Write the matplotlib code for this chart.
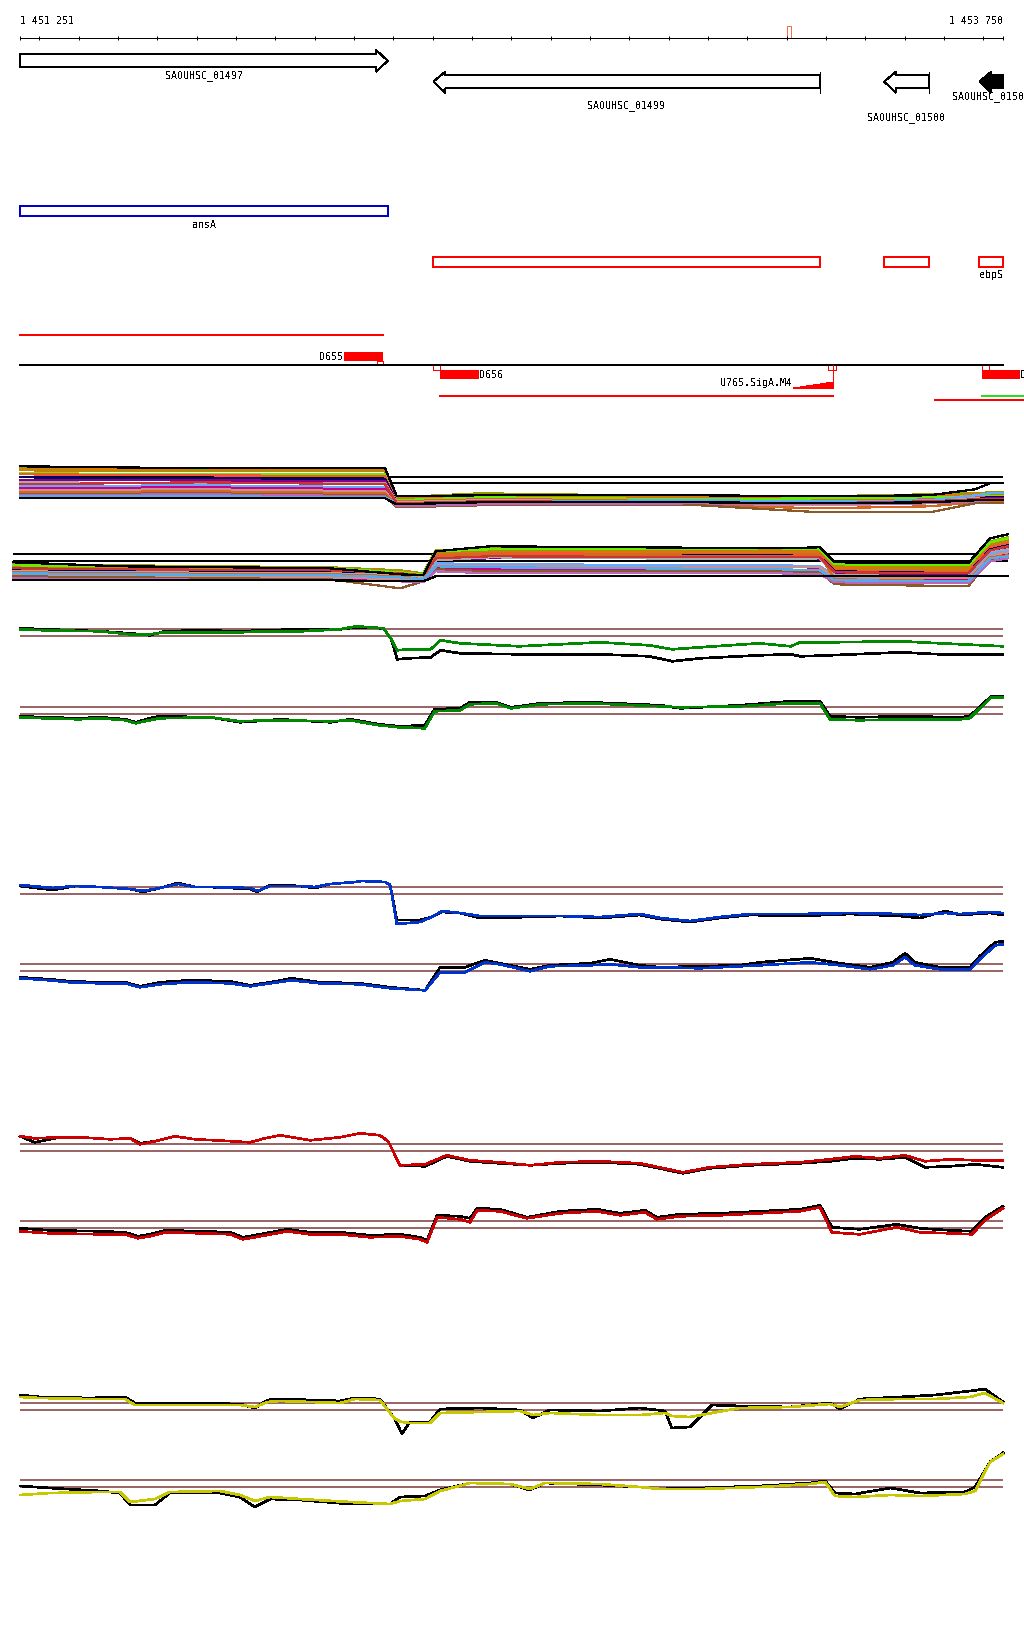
import numpy as np
import matplotlib
matplotlib.use('Agg')
import matplotlib.pyplot as plt
from matplotlib.patches import Polygon, Rectangle

plt.rcParams['font.family'] = ['DejaVu Sans Mono', 'DejaVu Sans']
plt.rcParams['font.size'] = 7.2
plt.rcParams['text.antialiased'] = False
plt.rcParams['lines.antialiased'] = False
plt.rcParams['patch.antialiased'] = False

# ---- region shown ----
START, END = 1451251, 1453750
TICKS = [START] + list(range(1451300, 1453701, 100)) + [END]
CURSOR = 1453202

# ---- genes ----
GENE_NAMES = ['SAOUHSC_01497', 'SAOUHSC_01499', 'SAOUHSC_01500', 'SAOUHSC_01501']
GENE_START = [1451251, 1452302, 1453448, 1453690]
GENE_END = [1452186, 1453285, 1453563, 1453750]
GENE_STRAND = ['+', '-', '-', '-']

# ---- gene name boxes ----
BOX_NAMES = ['ansA', '', '', 'ebpS']
BOX_START = [1451251, 1452302, 1453448, 1453690]
BOX_END = [1452186, 1453285, 1453563, 1453750]
BOX_COLORS = ['#0000cc', '#ff0000', '#ff0000', '#ff0000']

# ---- terminators / promoter / transcripts ----
TERM_NAMES = ['D655', 'D656', 'D657']
TERM_START = [1452075, 1452320, 1453697]
TERM_END = [1452175, 1452418, 1453793]
TERM_MARK = [1452159, 1452302, 1453697]
TERM_STRAND = ['+', '-', '-']
PROM_NAME = 'U765.SigA.M4'
PROM_POS = 1453317
PROM_LEN = 100
TX_START = [1451251, 1452320, 1453576, 1453697]
TX_END = [1452175, 1453317, 1453820, 1453820]
TX_COLORS = ['#ff0000', '#ff0000', '#ff0000', '#22dd22']

# ---- multi-condition track (values, log scale units) ----
MC_COLORS = ['#999900', '#dd7700', '#b8860b', '#66ee00', '#ff5030', '#000066',
             '#880088', '#aaaaaa', '#66aaff', '#cc0088', '#c89090', '#d2691e',
             '#8b5a2b', '#bb66bb', '#55aaee', '#cc3333', '#000000', '#000000']
MT_POS = [1451251, 1451709, 1452179, 1452209, 1452420, 1452980, 1453285,
          1453564, 1453679, 1453717, 1453750]
MT_VALUES = [
    [1.6, 1.4, 1.4, -1.4, -1.0, -1.3, -1.3, -1.1, -1.0, -0.9, -0.9],
    [1.4, 1.5, 1.3, -1.5, -1.3, -1.4, -1.4, -1.3, -1.1, -1.1, -1.1],
    [1.3, 1.2, 1.2, -1.6, -1.5, -1.5, -1.6, -1.5, -1.2, -1.2, -1.2],
    [1.0, 0.9, 0.9, -1.7, -1.4, -1.6, -1.5, -1.4, -1.3, -1.3, -1.3],
    [0.9, 0.8, 0.7, -1.8, -1.6, -1.7, -1.9, -1.6, -1.4, -1.4, -1.4],
    [0.6, 0.5, 0.4, -1.9, -1.8, -1.8, -1.9, -1.7, -1.5, -1.4, -1.4],
    [0.3, 0.3, 0.2, -2.0, -1.9, -1.9, -2.0, -1.8, -1.6, -1.5, -1.5],
    [0.1, 0.0, 0.0, -1.9, -1.7, -1.8, -1.9, -1.7, -1.5, -1.6, -1.6],
    [-0.3, -0.2, -0.4, -2.0, -1.8, -1.7, -1.8, -1.7, -1.2, -1.0, -1.0],
    [-0.5, -0.4, -0.6, -2.1, -2.0, -2.0, -2.1, -1.9, -1.7, -1.7, -1.7],
    [-0.7, -0.6, -0.8, -2.2, -2.0, -2.1, -2.2, -2.0, -1.8, -1.8, -1.8],
    [-0.9, -0.8, -1.0, -2.2, -2.1, -2.2, -2.5, -2.3, -1.9, -1.9, -1.9],
    [-1.1, -1.0, -1.2, -2.4, -2.2, -2.2, -2.9, -2.9, -2.0, -2.0, -2.0],
    [-1.2, -1.1, -1.3, -2.3, -2.1, -2.0, -2.1, -2.0, -1.8, -1.7, -1.7],
    [-1.3, -1.3, -1.4, -2.0, -1.8, -1.8, -1.9, -1.8, -1.6, -1.6, -1.6],
    [-0.1, 0.1, -0.1, -2.0, -1.8, -1.9, -2.0, -1.8, -1.6, -1.6, -1.6],
    [-1.5, -1.5, -1.5, -2.1, -1.9, -1.9, -2.0, -1.9, -1.7, -1.7, -1.7],
    [1.7, 1.5, 1.5, -1.3, -1.2, -1.2, -1.3, -1.2, -0.6, 0.0, 0.0],
]
MB_POS = [1451251, 1451520, 1452047, 1452223, 1452281, 1452313, 1452449,
          1453177, 1453278, 1453315, 1453650, 1453705, 1453750]
MB_VALUES = [
    [-0.3, -0.4, -0.6, -0.9, -1.2, 1.1, 1.3, 1.2, 1.2, -0.5, -0.6, 2.0, 2.4],
    [-0.5, -0.6, -0.8, -1.0, -1.3, 0.9, 1.1, 1.0, 1.1, -0.6, -0.7, 1.8, 2.2],
    [-0.6, -0.7, -0.9, -1.1, -1.4, 0.8, 1.0, 0.9, 0.9, -0.8, -0.9, 1.6, 2.0],
    [-0.4, -0.5, -0.7, -1.1, -1.3, 1.0, 1.2, 1.3, 1.2, -0.3, -0.4, 1.9, 2.3],
    [-0.8, -0.9, -1.0, -1.2, -1.5, 0.6, 0.8, 0.7, 0.7, -0.9, -1.1, 1.4, 1.8],
    [-0.9, -1.0, -1.1, -1.3, -1.6, 0.4, 0.6, 0.6, 0.5, -1.0, -1.2, 1.2, 1.6],
    [-1.2, -1.3, -1.5, -1.6, -1.8, 0.2, 0.3, 0.3, 0.2, -1.2, -1.3, 1.0, 1.4],
    [-1.0, -1.1, -1.2, -1.4, -1.6, 0.1, 0.4, 0.2, 0.3, -1.4, -1.5, 0.9, 1.2],
    [-1.3, -1.4, -1.5, -1.7, -1.9, -0.2, -0.3, -0.4, -0.5, -1.5, -1.6, 0.8, 1.0],
    [-1.6, -1.7, -1.8, -1.9, -2.0, -0.6, -0.8, -0.9, -0.8, -1.7, -1.8, 0.5, 0.8],
    [-1.4, -1.5, -1.6, -1.8, -2.0, -0.4, -0.5, -0.6, -0.6, -1.6, -1.7, 0.6, 0.9],
    [-1.1, -1.2, -1.3, -1.5, -1.8, 0.5, 0.7, 0.5, 0.6, -1.8, -2.0, 0.4, 0.6],
    [-1.5, -1.6, -1.8, -2.7, -2.0, -0.8, -1.0, -1.0, -1.1, -2.3, -2.5, 0.2, 0.4],
    [-1.7, -1.8, -1.9, -2.0, -2.1, -1.0, -1.2, -1.2, -1.3, -2.1, -2.2, 0.0, 0.3],
    [-1.2, -1.3, -1.4, -1.6, -1.8, -0.5, -0.6, -0.8, -0.9, -1.9, -2.0, 0.3, 0.5],
    [-0.7, -0.8, -0.9, -1.2, -1.4, 0.3, 0.5, 0.4, 0.4, -1.1, -1.2, 1.1, 1.5],
    [-1.9, -1.9, -1.9, -2.0, -2.0, -1.5, -1.5, -1.5, -1.5, -1.5, -1.5, -1.5, -1.5],
    [-0.1, -0.5, -0.7, -1.3, -1.4, 1.0, 1.5, 1.3, 1.4, -0.1, -0.2, 2.3, 2.7],
]
MT_THRESH = [0.0, 0.6]
MB_THRESH = [0.0, 0.7]

# ---- comparison tracks: thresholds at 0 and 0.7 ----
THRESH = [0.0, 0.7]

GT_POS = [1451251, 1451315, 1451455, 1451530, 1451580, 1451620, 1451710, 1451810, 1451875, 1451965,
          1452065, 1452105, 1452175, 1452195, 1452210, 1452240, 1452295, 1452320, 1452370, 1452520,
          1452725, 1452850, 1452910, 1452980, 1453130, 1453210, 1453235, 1453310, 1453490, 1453590,
          1453750]
GT_BLACK = [0.8, 0.7, 0.5, 0.3, 0.1, 0.5, 0.6, 0.5, 0.6, 0.7, 0.7, 0.9, 0.8, -0.3, -2.3, -2.2,
            -2.1, -1.4, -1.7, -1.8, -1.8, -2.0, -2.5, -2.2, -1.9, -1.8, -2.0, -1.9, -1.6, -1.8, -1.8]
GT_GREEN = [0.7, 0.6, 0.5, 0.2, 0.2, 0.4, 0.4, 0.4, 0.5, 0.5, 0.7, 1.0, 0.8, -0.3, -1.4, -1.3,
            -1.3, -0.4, -0.7, -1.0, -0.6, -0.9, -1.3, -1.1, -0.7, -1.0, -0.6, -0.6, -0.5, -0.7, -1.0]

GB_POS = [1451251, 1451315, 1451400, 1451455, 1451520, 1451545, 1451580, 1451605, 1451735, 1451810,
          1451885, 1451910, 1452040, 1452090, 1452165, 1452215, 1452280, 1452305, 1452370, 1452395,
          1452460, 1452500, 1452575, 1452700, 1452880, 1452930, 1453080, 1453210, 1453285, 1453310,
          1453385, 1453490, 1453640, 1453665, 1453720, 1453750]
GB_BLACK = [-0.2, -0.3, -0.4, -0.3, -0.5, -0.8, -0.4, -0.2, -0.3, -0.8, -0.6, -0.5, -0.8, -0.5,
            -1.0, -1.2, -1.1, 0.5, 0.6, 1.2, 1.2, 0.7, 1.1, 1.2, 0.9, 0.6, 0.9, 1.3, 1.3, -0.2,
            -0.3, -0.2, -0.3, -0.2, 1.8, 1.8]
GB_GREEN = [-0.3, -0.4, -0.5, -0.4, -0.6, -0.9, -0.6, -0.4, -0.3, -0.7, -0.6, -0.6, -0.7, -0.6,
            -1.1, -1.3, -1.4, 0.3, 0.4, 1.0, 1.1, 0.6, 1.0, 1.1, 0.8, 0.7, 0.8, 1.1, 1.1, -0.5,
            -0.6, -0.5, -0.5, -0.4, 1.7, 1.7]

BT_POS = [1451251, 1451335, 1451391, 1451454, 1451531, 1451564, 1451607, 1451653, 1451696, 1451734,
          1451836, 1451854, 1451887, 1451963, 1452001, 1452039, 1452103, 1452120, 1452179, 1452192,
          1452209, 1452268, 1452298, 1452324, 1452370, 1452420, 1452548, 1452624, 1452726, 1452827,
          1452878, 1452954, 1453031, 1453107, 1453234, 1453361, 1453488, 1453539, 1453603, 1453641,
          1453717, 1453750]
BT_BLACK = [0.8, 0.4, 0.8, 0.7, 0.5, 0.2, 0.6, 1.1, 0.7, 0.7, 0.5, 0.2, 0.9, 0.8, 0.6, 1.0, 1.2,
            1.3, 1.2, 0.9, -2.6, -2.6, -2.3, -1.8, -1.9, -2.4, -2.3, -2.2, -2.4, -2.1, -2.5, -2.8,
            -2.4, -2.1, -2.2, -2.0, -2.2, -2.4, -1.7, -2.1, -1.9, -2.1]
BT_BLUE = [0.9, 0.6, 0.8, 0.7, 0.5, 0.3, 0.6, 1.0, 0.7, 0.7, 0.6, 0.3, 0.8, 0.8, 0.7, 1.0, 1.2,
           1.3, 1.2, 0.9, -3.0, -2.8, -2.3, -1.7, -1.9, -2.2, -2.2, -2.2, -2.3, -2.0, -2.4, -2.7,
           -2.3, -2.0, -2.0, -1.9, -2.0, -2.1, -1.9, -2.0, -1.8, -1.9]

BB_POS = [1451251, 1451327, 1451378, 1451454, 1451518, 1451556, 1451607, 1451683, 1451785, 1451836,
          1451887, 1451942, 1452014, 1452115, 1452192, 1452281, 1452319, 1452382, 1452433, 1452471,
          1452548, 1452598, 1452700, 1452751, 1452827, 1452878, 1452980, 1453081, 1453132, 1453259,
          1453336, 1453412, 1453470, 1453501, 1453526, 1453590, 1453666, 1453691, 1453730, 1453750]
BB_BLACK = [-0.6, -0.8, -1.0, -1.1, -1.1, -1.5, -1.1, -0.9, -1.0, -1.4, -1.1, -0.7, -1.1, -1.2,
            -1.6, -1.9, 0.4, 0.4, 1.1, 0.8, 0.2, 0.6, 0.8, 1.2, 0.6, 0.4, 0.5, 0.6, 0.9, 1.3, 0.8,
            0.4, 0.9, 1.8, 0.9, 0.4, 0.4, 1.5, 2.9, 3.0]
BB_BLUE = [-0.7, -0.9, -1.1, -1.2, -1.2, -1.6, -1.3, -1.1, -1.2, -1.5, -1.2, -0.9, -1.2, -1.3,
           -1.7, -1.9, -0.1, -0.1, 0.9, 0.7, 0.0, 0.5, 0.6, 0.7, 0.4, 0.4, 0.3, 0.5, 0.6, 0.9,
           0.6, 0.2, 0.6, 1.4, 0.6, 0.2, 0.2, 1.2, 2.6, 2.7]

RT_POS = [1451251, 1451289, 1451353, 1451404, 1451480, 1451531, 1451556, 1451594, 1451645, 1451696,
          1451747, 1451836, 1451874, 1451912, 1451988, 1452065, 1452115, 1452166, 1452187, 1452217,
          1452281, 1452336, 1452395, 1452471, 1452548, 1452624, 1452726, 1452827, 1452936, 1453005,
          1453107, 1453234, 1453310, 1453374, 1453437, 1453501, 1453552, 1453615, 1453679, 1453750]
RT_BLACK = [1.5, 0.9, 1.4, 1.4, 1.2, 1.3, 0.8, 1.0, 1.5, 1.2, 1.1, 0.9, 1.3, 1.6, 1.1, 1.4, 1.8,
            1.6, 1.0, -1.4, -1.5, -0.5, -1.0, -1.2, -1.4, -1.2, -1.1, -1.3, -2.2, -1.7, -1.4, -1.2,
            -1.0, -0.7, -0.8, -0.6, -1.6, -1.5, -1.3, -1.6]
RT_RED = [1.5, 1.3, 1.4, 1.4, 1.2, 1.3, 0.7, 1.0, 1.5, 1.2, 1.1, 0.9, 1.3, 1.6, 1.1, 1.4, 1.8,
          1.6, 1.0, -1.4, -1.3, -0.4, -0.9, -1.1, -1.4, -1.1, -1.0, -1.2, -2.1, -1.6, -1.3, -1.1,
          -0.8, -0.5, -0.7, -0.4, -1.0, -0.8, -0.9, -0.9]

RB_POS = [1451251, 1451327, 1451454, 1451518, 1451551, 1451582, 1451620, 1451709, 1451785, 1451818,
          1451861, 1451930, 1451988, 1452065, 1452141, 1452217, 1452268, 1452286, 1452311, 1452370,
          1452395, 1452413, 1452471, 1452540, 1452624, 1452718, 1452776, 1452840, 1452870, 1452929,
          1453031, 1453132, 1453234, 1453285, 1453315, 1453386, 1453480, 1453539, 1453615, 1453671,
          1453704, 1453750]
RB_BLACK = [0.0, -0.2, -0.3, -0.4, -0.8, -0.6, -0.2, -0.3, -0.4, -0.9, -0.6, -0.1, -0.4, -0.4,
            -0.7, -0.6, -0.9, -1.2, 1.3, 1.2, 1.0, 2.0, 1.9, 1.1, 1.7, 1.9, 1.5, 1.8, 1.1, 1.4,
            1.5, 1.7, 1.9, 2.3, 0.1, -0.1, 0.4, 0.0, -0.2, -0.3, 1.1, 2.2]
RB_RED = [-0.3, -0.5, -0.6, -0.6, -1.0, -0.8, -0.4, -0.5, -0.6, -1.1, -0.8, -0.3, -0.6, -0.6,
          -0.9, -0.8, -1.1, -1.4, 1.1, 0.9, 0.6, 1.8, 1.7, 1.0, 1.5, 1.7, 1.3, 1.6, 0.9, 1.2,
          1.3, 1.5, 1.7, 2.1, -0.4, -0.6, 0.1, -0.4, -0.5, -0.6, 0.8, 2.0]

YT_POS = [1451251, 1451302, 1451429, 1451518, 1451543, 1451658, 1451810, 1451848, 1451881, 1451912,
          1452065, 1452103, 1452166, 1452204, 1452222, 1452242, 1452293, 1452319, 1452420, 1452522,
          1452555, 1452598, 1452725, 1452827, 1452891, 1452908, 1452954, 1453010, 1453081, 1453208,
          1453310, 1453336, 1453386, 1453488, 1453577, 1453666, 1453704, 1453750]
YT_BLACK = [1.5, 1.3, 1.2, 1.3, 0.7, 0.7, 0.6, 0.2, 1.0, 1.1, 0.9, 1.2, 1.1, -0.9, -2.4, -1.2,
            -1.2, 0.1, 0.2, 0.0, -0.8, 0.0, -0.1, 0.2, -0.1, -1.8, -1.7, 0.5, 0.4, 0.3, 0.7, 0.1,
            1.1, 1.3, 1.5, 1.9, 2.1, 0.8]
YT_YELLOW = [1.3, 1.2, 1.1, 1.1, 0.5, 0.5, 0.5, 0.3, 0.8, 0.9, 0.7, 1.1, 1.0, -0.9, -1.2, -1.3,
             -1.3, -0.3, -0.2, -0.1, -0.5, -0.3, -0.5, -0.5, -0.3, -0.6, -0.7, -0.3, 0.2, 0.3,
             0.6, 0.3, 1.0, 1.1, 1.1, 1.3, 1.7, 0.7]

YB_POS = [1451251, 1451327, 1451454, 1451505, 1451531, 1451594, 1451632, 1451759, 1451810, 1451848,
          1451887, 1451963, 1452090, 1452192, 1452217, 1452281, 1452319, 1452395, 1452497, 1452547,
          1452586, 1452725, 1452827, 1452878, 1452980, 1453132, 1453259, 1453298, 1453323, 1453374,
          1453463, 1453539, 1453653, 1453679, 1453717, 1453750]
YB_BLACK = [0.1, -0.1, -0.4, -0.6, -1.8, -1.8, -0.6, -0.6, -1.0, -2.0, -1.2, -1.3, -1.7, -1.7,
            -1.0, -0.9, -0.3, 0.4, 0.3, -0.3, 0.4, 0.2, 0.0, -0.2, -0.1, 0.1, 0.4, 0.6, -0.6, -0.7,
            -0.1, -0.6, -0.5, 0.0, 2.5, 3.4]
YB_YELLOW = [-0.8, -0.6, -0.5, -0.5, -1.5, -1.2, -0.5, -0.4, -0.8, -1.4, -1.0, -1.2, -1.5, -1.7,
             -1.4, -1.2, -0.4, 0.4, 0.3, -0.2, 0.4, 0.3, 0.0, -0.2, -0.2, 0.0, 0.3, 0.5, -0.9,
             -1.0, -0.8, -0.9, -0.7, -0.4, 2.5, 3.3]

W, H = 1024, 1640
PX = 0.72  # one pixel in points
fig = plt.figure(figsize=(W / 100, H / 100), dpi=100)


def view(px0, px1):
    # x limits so that START sits at pixel px0 and END at pixel px1
    bp = (END - START) / (px1 - px0)
    return START - px0 * bp, START + (W - px0) * bp


# overlay axes for the annotation tracks (y in pixel rows)
ax = fig.add_axes([0, 0, 1, 1])
ax.set_xlim(*view(20, 1003))
ax.set_ylim(H, 0)
ax.axis('off')

# ruler
rul = fig.add_axes([0, 1 - 38.5 / H, 1, 0.5 / H])
rul.set_xlim(*view(20, 1003))
rul.patch.set_visible(False)
for s in ['top', 'left', 'right']:
    rul.spines[s].set_visible(False)
rul.spines['bottom'].set_bounds(START, END)
rul.spines['bottom'].set_linewidth(PX)
rul.set_xticks(TICKS)
rul.set_yticks([])
rul.tick_params(axis='x', direction='inout', length=3.4, width=PX, labelbottom=False)
ax.text(START, 20.5, f'{START:,}'.replace(',', ' '), ha='left', va='center')
ax.text(END, 20.5, f'{END:,}'.replace(',', ' '), ha='right', va='center')
ax.add_patch(Rectangle((CURSOR, 27), 10, 12, fill=False, ec='#f07050', lw=PX))

# gene arrows
HEAD = 30
label_rows = [76, 106, 118, 97]
for name, s, e, strand, ly in zip(GENE_NAMES, GENE_START, GENE_END, GENE_STRAND, label_rows):
    filled = name == 'SAOUHSC_01501'
    if strand == '+':
        bt, bb, ht, hb = 55.3, 68.3, 51, 72.7
        pts = [(s, bt), (e - HEAD, bt), (e - HEAD, ht), (e, (bt + bb) / 2),
               (e - HEAD, hb), (e - HEAD, bb), (s, bb)]
    else:
        bt, bb, ht, hb = 76, 89.3, 72.7, 93.7
        pts = [(e, bt), (s + HEAD, bt), (s + HEAD, ht), (s, (bt + bb) / 2),
               (s + HEAD, hb), (s + HEAD, bb), (e, bb)]
    ax.add_patch(Polygon(pts, closed=True, fc='black' if filled else 'white', ec='black', lw=PX))
    if strand == '-' and not filled:
        ax.plot([e, e], [ht, hb], color='black', lw=PX)
    ax.text((s + e) / 2, ly, name, ha='center', va='center')

# gene name boxes
box_rows = [207, 258, 258, 258]
for name, s, e, c, y in zip(BOX_NAMES, BOX_START, BOX_END, BOX_COLORS, box_rows):
    ax.add_patch(Rectangle((s, y), e - s, 10, fill=False, ec=c, lw=1.4))
    if name:
        ax.text((s + e) / 2, y + 17.5, name, ha='center', va='center')

# transcripts, terminators, promoter
tx_rows = [336, 397.3, 401, 397.3]
for s, e, c, y in zip(TX_START, TX_END, TX_COLORS, tx_rows):
    ax.plot([s, e], [y, y], color=c, lw=1.1)
ax.plot([START, END], [366.3, 366.3], color='black', lw=1.4)
for name, s, e, m, strand in zip(TERM_NAMES, TERM_START, TERM_END, TERM_MARK, TERM_STRAND):
    if strand == '+':
        ax.add_patch(Rectangle((s, 353), e - s, 8.7, fc='#ff0000', ec='none'))
        ax.add_patch(Rectangle((m, 361.7), 16, 4.6, fc='white', ec='#ff0000', lw=PX))
        ax.text(s - 2, 357.5, name, ha='right', va='center')
    else:
        ax.add_patch(Rectangle((s, 370.7), e - s, 9, fc='#ff0000', ec='none'))
        ax.add_patch(Rectangle((m, 366.3), 17, 4.4, fc='white', ec='#ff0000', lw=PX))
        ax.text(e + 2, 375.5, name, ha='left', va='center')

steps = 6
xs = np.linspace(PROM_POS - PROM_LEN, PROM_POS, steps + 1)
stair = [(xs[0], 389.3)]
for i in range(steps):
    h = 389.3 - 6.6 * (i + 1) / steps
    stair += [(xs[i], h), (xs[i + 1], h)]
stair += [(xs[-1], 389.3)]
ax.add_patch(Polygon(stair, closed=True, fc='#ff0000', ec='#ff0000', lw=PX))
ax.plot([PROM_POS, PROM_POS], [366.3, 389.3], color='#ff0000', lw=PX)
ax.add_patch(Rectangle((PROM_POS - 11, 366.3), 11, 4.4, fc='white', ec='#ff0000', lw=PX))
ax.add_patch(Rectangle((PROM_POS, 366.3), 8, 4.4, fc='white', ec='#ff0000', lw=PX))
ax.text(PROM_POS - PROM_LEN - 4, 383, PROM_NAME, ha='right', va='center')


# signal tracks: one axes per strand, value 0 at pixel row y0, 10 px per unit
def track(y0, px0=20, px1=1003, span=45):
    a = fig.add_axes([0, 1 - (y0 + span) / H, 1, 2 * span / H])
    a.set_xlim(*view(px0, px1))
    a.set_ylim(-span / 10, span / 10)
    a.axis('off')
    return a


a = track(484.3)
a.hlines(MT_THRESH, START, END, color='black', lw=1.1)
for c, vals in zip(MC_COLORS, MT_VALUES):
    a.plot(MT_POS, vals, color=c, lw=0.9)

a = track(562.3, 13, 1008)
a.hlines(MB_THRESH, START, END, color='black', lw=1.1)
for c, vals in zip(MC_COLORS, MB_VALUES):
    a.plot(MB_POS, vals, color=c, lw=0.9)

BROWN = '#9b6666'
panels = [
    (637.3, GT_POS, GT_BLACK, GT_GREEN, '#008800'),
    (715.3, GB_POS, GB_BLACK, GB_GREEN, '#008800'),
    (895.0, BT_POS, BT_BLACK, BT_BLUE, '#0033cc'),
    (972.3, BB_POS, BB_BLACK, BB_BLUE, '#0033cc'),
    (1152.3, RT_POS, RT_BLACK, RT_RED, '#cc0000'),
    (1229.3, RB_POS, RB_BLACK, RB_RED, '#cc0000'),
    (1411.0, YT_POS, YT_BLACK, YT_YELLOW, '#c8c800'),
    (1488.0, YB_POS, YB_BLACK, YB_YELLOW, '#c8c800'),
]
for y0, pos, black, col, c in panels:
    a = track(y0)
    a.hlines(THRESH, START, END, color=BROWN, lw=1.1)
    a.plot(pos, black, color='black', lw=1.2)
    a.plot(pos, col, color=c, lw=1.2)

fig.savefig('out.png', dpi=100)
